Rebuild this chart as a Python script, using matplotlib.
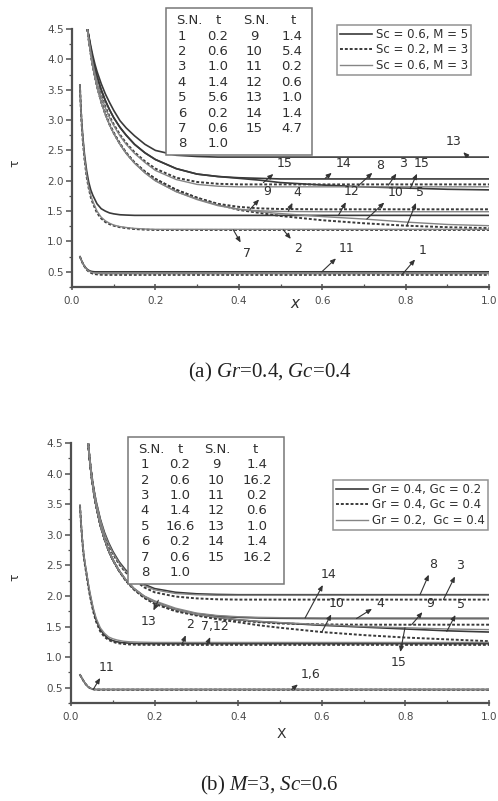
import matplotlib
matplotlib.use("Agg")
import matplotlib.pyplot as plt
from matplotlib.patches import Rectangle
from matplotlib.ticker import MultipleLocator, FormatStrFormatter

plt.rcParams['font.family'] = ['DejaVu Sans']
plt.rcParams['mathtext.fontset'] = 'custom'
plt.rcParams['mathtext.rm'] = 'Liberation Serif'
plt.rcParams['mathtext.it'] = 'Liberation Serif:italic'

# ---------------- panel (a) data ----------------
xa_main = [0.037, 0.04, 0.045, 0.05, 0.055, 0.06, 0.07, 0.08, 0.09, 0.1, 0.115, 0.13, 0.15,
           0.175, 0.2, 0.25, 0.3, 0.35, 0.4, 0.45, 0.5, 0.6, 0.7, 0.8, 0.9, 1.0]
a_y3 = [4.5, 4.36, 4.14, 3.95, 3.79, 3.65, 3.41, 3.22, 3.06, 2.93, 2.76, 2.62, 2.47,
        2.32, 2.2, 2.05, 1.98, 1.95, 1.94, 1.94, 1.94, 1.94, 1.94, 1.94, 1.94, 1.94]
a_y4 = [4.5, 4.33, 4.09, 3.88, 3.71, 3.56, 3.3, 3.1, 2.93, 2.79, 2.61, 2.46, 2.3,
        2.15, 2.03, 1.85, 1.72, 1.62, 1.57, 1.545, 1.535, 1.53, 1.53, 1.53, 1.53, 1.53]
a_y5 = [4.5, 4.33, 4.09, 3.88, 3.71, 3.56, 3.3, 3.1, 2.93, 2.79, 2.61, 2.46, 2.3,
        2.15, 2.03, 1.85, 1.72, 1.61, 1.52, 1.47, 1.42, 1.35, 1.3, 1.26, 1.235, 1.22]
a_y8 = [4.5, 4.35, 4.12, 3.93, 3.77, 3.63, 3.39, 3.2, 3.04, 2.91, 2.74, 2.6, 2.45,
        2.3, 2.17, 2.02, 1.94, 1.91, 1.9, 1.9, 1.9, 1.9, 1.9, 1.9, 1.9, 1.9]
a_y9 = [4.5, 4.32, 4.08, 3.87, 3.7, 3.55, 3.29, 3.09, 2.92, 2.78, 2.6, 2.45, 2.29,
        2.13, 2.0, 1.82, 1.69, 1.59, 1.53, 1.505, 1.495, 1.49, 1.49, 1.49, 1.49, 1.49]
a_y10 = [4.5, 4.32, 4.08, 3.87, 3.7, 3.55, 3.29, 3.09, 2.92, 2.78, 2.6, 2.45, 2.29,
         2.13, 2.0, 1.82, 1.7, 1.6, 1.53, 1.49, 1.46, 1.41, 1.37, 1.32, 1.28, 1.26]
a_y13 = [4.5, 4.4, 4.22, 4.06, 3.92, 3.8, 3.6, 3.43, 3.29, 3.16, 2.99, 2.87, 2.74,
         2.6, 2.5, 2.42, 2.4, 2.39, 2.39, 2.39, 2.39, 2.39, 2.39, 2.39, 2.39, 2.39]
a_y14 = [4.5, 4.38, 4.18, 4.0, 3.85, 3.72, 3.5, 3.32, 3.17, 3.04, 2.88, 2.75, 2.6,
         2.46, 2.35, 2.2, 2.11, 2.07, 2.05, 2.04, 2.03, 2.03, 2.03, 2.03, 2.03, 2.03]
a_y15 = [4.5, 4.38, 4.18, 4.0, 3.85, 3.72, 3.5, 3.32, 3.17, 3.04, 2.88, 2.75, 2.6,
         2.46, 2.35, 2.2, 2.11, 2.07, 2.04, 2.01, 1.97, 1.93, 1.9, 1.88, 1.86, 1.85]

xa_06 = [0.019, 0.021, 0.023, 0.026, 0.03, 0.035, 0.04, 0.045, 0.05, 0.06, 0.07, 0.08,
         0.09, 0.1, 0.115, 0.13, 0.15, 0.175, 0.2, 0.3, 0.5, 1.0]
a_y12 = [3.58, 3.25, 3.0, 2.72, 2.43, 2.17, 1.98, 1.85, 1.76, 1.62, 1.54, 1.5,
         1.47, 1.455, 1.44, 1.435, 1.43, 1.43, 1.43, 1.43, 1.43, 1.43]
a_y2 = [3.58, 3.22, 2.95, 2.65, 2.35, 2.07, 1.88, 1.73, 1.63, 1.47, 1.38, 1.32,
        1.285, 1.26, 1.235, 1.22, 1.205, 1.195, 1.19, 1.19, 1.19, 1.19]
a_y7 = [3.58, 3.23, 2.97, 2.68, 2.38, 2.1, 1.9, 1.76, 1.66, 1.5, 1.4, 1.34,
        1.3, 1.27, 1.245, 1.23, 1.215, 1.205, 1.2, 1.2, 1.2, 1.2]

xa_02 = [0.019, 0.022, 0.025, 0.028, 0.032, 0.036, 0.04, 0.045, 0.05, 0.055, 0.06,
         0.07, 0.08, 0.1, 0.2, 0.5, 1.0]
a_y11 = [0.75, 0.7, 0.655, 0.615, 0.575, 0.545, 0.525, 0.51, 0.503, 0.5, 0.5,
         0.5, 0.5, 0.5, 0.5, 0.5, 0.5]
a_y1 = [0.75, 0.7, 0.65, 0.61, 0.565, 0.53, 0.505, 0.485, 0.47, 0.462, 0.457,
        0.452, 0.45, 0.45, 0.45, 0.45, 0.45]
a_y6 = [0.75, 0.7, 0.652, 0.612, 0.57, 0.537, 0.515, 0.497, 0.485, 0.478, 0.474,
        0.471, 0.47, 0.47, 0.47, 0.47, 0.47]

a_sn_left = ["1", "2", "3", "4", "5", "6", "7", "8"]
a_t_left = ["0.2", "0.6", "1.0", "1.4", "5.6", "0.2", "0.6", "1.0"]
a_sn_right = ["9", "10", "11", "12", "13", "14", "15"]
a_t_right = ["1.4", "5.4", "0.2", "0.6", "1.0", "1.4", "4.7"]
a_legend = ["Sc = 0.6, M = 5", "Sc = 0.2, M = 3", "Sc = 0.6, M = 3"]

# ---------------- panel (b) data ----------------
xb_main = [0.041, 0.045, 0.05, 0.055, 0.06, 0.07, 0.08, 0.09, 0.1, 0.115, 0.13, 0.15,
           0.175, 0.2, 0.25, 0.3, 0.35, 0.4, 0.45, 0.5, 0.6, 0.7, 0.8, 0.9, 1.0]
b_y8 = [4.5, 4.23, 3.95, 3.73, 3.55, 3.26, 3.04, 2.87, 2.73, 2.56, 2.43, 2.3,
        2.19, 2.12, 2.06, 2.035, 2.025, 2.02, 2.02, 2.02, 2.02, 2.02, 2.02, 2.02, 2.02]
b_y3 = [4.5, 4.22, 3.94, 3.71, 3.52, 3.23, 3.0, 2.83, 2.69, 2.52, 2.39, 2.27,
        2.14, 2.06, 1.99, 1.96, 1.945, 1.94, 1.94, 1.94, 1.94, 1.94, 1.94, 1.94, 1.94]
b_y13 = [4.5, 4.23, 3.95, 3.72, 3.54, 3.25, 3.02, 2.85, 2.71, 2.54, 2.41, 2.29,
         2.17, 2.1, 2.04, 2.02, 2.01, 2.01, 2.01, 2.01, 2.01, 2.01, 2.01, 2.01, 2.01]
b_y9 = [4.5, 4.2, 3.9, 3.67, 3.47, 3.16, 2.93, 2.74, 2.59, 2.41, 2.27, 2.12,
        1.99, 1.9, 1.78, 1.71, 1.67, 1.65, 1.64, 1.635, 1.63, 1.63, 1.63, 1.63, 1.63]
b_y4 = [4.5, 4.2, 3.9, 3.67, 3.47, 3.16, 2.93, 2.74, 2.59, 2.41, 2.26, 2.11,
        1.97, 1.88, 1.76, 1.69, 1.64, 1.6, 1.57, 1.55, 1.535, 1.53, 1.53, 1.53, 1.53]
b_y14 = [4.5, 4.21, 3.91, 3.68, 3.48, 3.17, 2.94, 2.75, 2.6, 2.42, 2.28, 2.13,
         2.0, 1.92, 1.8, 1.72, 1.68, 1.66, 1.65, 1.645, 1.64, 1.64, 1.64, 1.64, 1.64]
b_y10 = [4.5, 4.2, 3.9, 3.67, 3.47, 3.16, 2.93, 2.74, 2.59, 2.41, 2.27, 2.12,
         1.99, 1.9, 1.78, 1.7, 1.65, 1.61, 1.58, 1.56, 1.52, 1.49, 1.46, 1.43, 1.41]
b_y5 = [4.5, 4.2, 3.9, 3.67, 3.47, 3.16, 2.93, 2.74, 2.59, 2.41, 2.26, 2.11,
        1.97, 1.87, 1.75, 1.68, 1.62, 1.57, 1.52, 1.48, 1.41, 1.36, 1.32, 1.29, 1.26]
b_y15 = [4.5, 4.2, 3.9, 3.67, 3.47, 3.16, 2.93, 2.74, 2.59, 2.41, 2.27, 2.12,
         1.99, 1.9, 1.78, 1.7, 1.65, 1.61, 1.585, 1.565, 1.53, 1.5, 1.48, 1.46, 1.45]

xb_06 = [0.0215, 0.024, 0.027, 0.03, 0.033, 0.037, 0.041, 0.045, 0.049, 0.053, 0.06,
         0.07, 0.08, 0.09, 0.1, 0.11, 0.125, 0.14, 0.16, 0.2, 0.3, 0.5, 1.0]
b_y12 = [3.48, 3.2, 2.93, 2.72, 2.56, 2.4, 2.22, 2.07, 1.94, 1.81, 1.64, 1.48, 1.39,
         1.33, 1.3, 1.28, 1.26, 1.25, 1.245, 1.24, 1.24, 1.24, 1.24]
b_y7 = [3.48, 3.19, 2.92, 2.7, 2.54, 2.38, 2.2, 2.04, 1.91, 1.78, 1.61, 1.45, 1.36,
        1.3, 1.27, 1.25, 1.235, 1.228, 1.222, 1.22, 1.22, 1.22, 1.22]
b_y2 = [3.48, 3.18, 2.9, 2.68, 2.52, 2.35, 2.17, 2.01, 1.88, 1.75, 1.58, 1.42, 1.33,
        1.28, 1.25, 1.23, 1.215, 1.207, 1.202, 1.2, 1.2, 1.2, 1.2]

xb_02 = [0.0215, 0.025, 0.03, 0.035, 0.04, 0.045, 0.05, 0.055, 0.06, 0.08, 0.2, 0.5, 1.0]
b_y1 = [0.71, 0.67, 0.61, 0.56, 0.52, 0.495, 0.48, 0.472, 0.468, 0.468, 0.468, 0.468, 0.468]
b_y6 = [0.71, 0.67, 0.61, 0.56, 0.52, 0.496, 0.481, 0.473, 0.47, 0.47, 0.47, 0.47, 0.47]
b_y11 = [0.71, 0.67, 0.612, 0.562, 0.522, 0.497, 0.482, 0.475, 0.472, 0.472, 0.472, 0.472, 0.472]

b_sn_left = ["1", "2", "3", "4", "5", "6", "7", "8"]
b_t_left = ["0.2", "0.6", "1.0", "1.4", "16.6", "0.2", "0.6", "1.0"]
b_sn_right = ["9", "10", "11", "12", "13", "14", "15"]
b_t_right = ["1.4", "16.2", "0.2", "0.6", "1.0", "1.4", "16.2"]
b_legend = ["Gr = 0.4, Gc = 0.2", "Gr = 0.4, Gc = 0.4", "Gr = 0.2,  Gc = 0.4"]

# ---------------- styles ----------------
W, H = 498, 801
DARK = '#3a3a3a'
GREY = '#858585'
TXT = '#303030'
sty_solid = dict(color=DARK, lw=1.2, ls='-')
sty_dash = dict(color=DARK, lw=1.4, ls=(0, (1.5, 1.0)))
sty_grey = dict(color=GREY, lw=1.0, ls='-')

fig = plt.figure(figsize=(W / 100, H / 100), dpi=100)


def fx(px):
    return px / W


def fy(py):
    return 1 - py / H


def style_axes(ax):
    ax.set_xlim(0, 1.0)
    ax.set_ylim(0.25, 4.5)
    for s in ['top', 'right']:
        ax.spines[s].set_visible(False)
    for s in ['left', 'bottom']:
        ax.spines[s].set_color('#505050')
        ax.spines[s].set_linewidth(1.6)
    ax.xaxis.set_major_locator(MultipleLocator(0.2))
    ax.xaxis.set_minor_locator(MultipleLocator(0.1))
    ax.set_yticks([0.5, 1.0, 1.5, 2.0, 2.5, 3.0, 3.5, 4.0, 4.5])
    ax.yaxis.set_minor_locator(MultipleLocator(0.25))
    ax.xaxis.set_major_formatter(FormatStrFormatter('%.1f'))
    ax.yaxis.set_major_formatter(FormatStrFormatter('%.1f'))
    ax.tick_params(axis='y', which='major', direction='out', length=4, width=1.1, color='#505050',
                   labelsize=7.5, labelcolor='#4a4a4a', pad=2)
    ax.tick_params(axis='y', which='minor', direction='out', length=2, width=0.9, color='#505050')
    ax.tick_params(axis='x', which='major', direction='inout', length=5, width=1.1, color='#505050',
                   labelsize=7.5, labelcolor='#4a4a4a', pad=4)
    ax.tick_params(axis='x', which='minor', direction='in', length=2.5, width=0.9, color='#505050')


def draw_table(sn_l, t_l, sn_r, t_r, box, hdr_x, col_x, row_y0, row_dy):
    x0, y0, x1, y1 = box
    fig.patches.append(Rectangle((fx(x0), fy(y1)), fx(x1) - fx(x0), fy(y0) - fy(y1),
                                 transform=fig.transFigure, fill=True, facecolor='white',
                                 edgecolor='#777777', lw=1.1, zorder=5))
    hdr = ["S.N.", "t", "S.N.", "t"]
    kw = dict(ha='center', va='center', fontsize=9.5, color=TXT, zorder=6)
    for h, xx in zip(hdr, hdr_x):
        fig.text(fx(xx), fy(row_y0), h, **kw)
    for i, (s, t) in enumerate(zip(sn_l, t_l)):
        yy = fy(row_y0 + (i + 1) * row_dy)
        fig.text(fx(col_x[0]), yy, s, **kw)
        fig.text(fx(col_x[1]), yy, t, **kw)
    for i, (s, t) in enumerate(zip(sn_r, t_r)):
        yy = fy(row_y0 + (i + 1) * row_dy)
        fig.text(fx(col_x[2]), yy, s, **kw)
        fig.text(fx(col_x[3]), yy, t, **kw)


def label(ax, txt, curve_pt, text_pt):
    ax.annotate(txt, xy=curve_pt, xytext=text_pt, ha='center', va='center', fontsize=9,
                color=TXT,
                arrowprops=dict(arrowstyle='<|-,head_length=0.35,head_width=0.15', color='#333333',
                                lw=0.8, shrinkA=1, shrinkB=0))


def make_legend(ax, handles, labels, anchor):
    lg = ax.legend(handles, labels, loc='upper right', bbox_to_anchor=anchor,
                   bbox_transform=fig.transFigure, fontsize=8.5, frameon=True, fancybox=False,
                   handlelength=2.7, handletextpad=0.4, labelspacing=0.2, borderpad=0.25,
                   borderaxespad=0, alignment='right')
    lg.get_frame().set_edgecolor('#777777')
    lg.get_frame().set_linewidth(1.1)
    for t in lg.get_texts():
        t.set_color(TXT)
    return lg


# ================= panel (a) =================
axa = fig.add_axes([fx(72), fy(287), fx(489) - fx(72), fy(29) - fy(287)])
style_axes(axa)
# solid group (11-15)
axa.plot(xa_02, a_y11, **sty_solid)
axa.plot(xa_06, a_y12, **sty_solid)
la1, = axa.plot(xa_main, a_y13, **sty_solid)
axa.plot(xa_main, a_y14, **sty_solid)
axa.plot(xa_main, a_y15, **sty_solid)
# dashed group (1-5)
axa.plot(xa_02, a_y1, **sty_dash)
axa.plot(xa_06, a_y2, **sty_dash)
la2, = axa.plot(xa_main, a_y3, **sty_dash)
axa.plot(xa_main, a_y4, **sty_dash)
axa.plot(xa_main, a_y5, **sty_dash)
# grey group (6-10)
axa.plot(xa_02, a_y6, **sty_grey)
axa.plot(xa_06, a_y7, **sty_grey)
la3, = axa.plot(xa_main, a_y8, **sty_grey)
axa.plot(xa_main, a_y9, **sty_grey)
axa.plot(xa_main, a_y10, **sty_grey)

make_legend(axa, [la1, la2, la3], a_legend, (fx(471.3), fy(25)))

label(axa, "15", (0.459, 1.97), (0.511, 2.28))
label(axa, "14", (0.607, 2.04), (0.651, 2.29))
label(axa, "8", (0.687, 1.92), (0.739, 2.25))
label(axa, "3", (0.759, 1.93), (0.795, 2.29))
label(axa, "15", (0.811, 1.87), (0.839, 2.29))
label(axa, "13", (0.95, 2.39), (0.914, 2.64))
label(axa, "9", (0.427, 1.53), (0.467, 1.83))
label(axa, "4", (0.519, 1.5), (0.541, 1.81))
label(axa, "12", (0.639, 1.43), (0.671, 1.82))
label(axa, "10", (0.707, 1.37), (0.775, 1.81))
label(axa, "5", (0.803, 1.26), (0.835, 1.81))
label(axa, "7", (0.387, 1.19), (0.419, 0.81))
label(axa, "2", (0.507, 1.19), (0.543, 0.89))
label(axa, "11", (0.599, 0.5), (0.659, 0.89))
label(axa, "1", (0.791, 0.45), (0.841, 0.85))

fig.text(fx(295), fy(303), "x", ha='center', va='center', fontsize=11, style='italic', color=TXT)
fig.text(fx(15), fy(163), "τ", ha='center', va='center', fontsize=9, rotation=90, color=TXT)

draw_table(a_sn_left, a_t_left, a_sn_right, a_t_right, (166, 8.3, 312.3, 155),
           [189, 218, 256, 293], [182, 218, 254, 292], 20.7, 15.4)

fig.text(fx(270), fy(372), r'(a) $\mathit{Gr}$=0.4, $\mathit{Gc}$=0.4', ha='center', va='center',
         fontsize=15, color='#222222', family='Liberation Serif')

# ================= panel (b) =================
axb = fig.add_axes([fx(71), fy(703), fx(489) - fx(71), fy(443) - fy(703)])
style_axes(axb)
# solid group (6-10)
axb.plot(xb_02, b_y6, **sty_solid)
axb.plot(xb_06, b_y7, **sty_solid)
lb1, = axb.plot(xb_main, b_y8, **sty_solid)
axb.plot(xb_main, b_y9, **sty_solid)
axb.plot(xb_main, b_y10, **sty_solid)
# dashed group (1-5)
axb.plot(xb_02, b_y1, **sty_dash)
axb.plot(xb_06, b_y2, **sty_dash)
lb2, = axb.plot(xb_main, b_y3, **sty_dash)
axb.plot(xb_main, b_y4, **sty_dash)
axb.plot(xb_main, b_y5, **sty_dash)
# grey group (11-15)
axb.plot(xb_02, b_y11, **sty_grey)
axb.plot(xb_06, b_y12, **sty_grey)
lb3, = axb.plot(xb_main, b_y13, **sty_grey)
axb.plot(xb_main, b_y14, **sty_grey)
axb.plot(xb_main, b_y15, **sty_grey)

make_legend(axb, [lb1, lb2, lb3], b_legend, (fx(488.3), fy(480)))

label(axb, "14", (0.56, 1.64), (0.616, 2.35))
label(axb, "8", (0.835, 2.02), (0.867, 2.52))
label(axb, "3", (0.891, 1.94), (0.931, 2.49))
label(axb, "10", (0.6, 1.41), (0.636, 1.87))
label(axb, "4", (0.683, 1.63), (0.739, 1.87))
label(axb, "9", (0.815, 1.53), (0.859, 1.88))
label(axb, "5", (0.899, 1.42), (0.933, 1.86))
label(axb, "15", (0.799, 1.48), (0.783, 0.91))
label(axb, "13", (0.209, 1.93), (0.185, 1.59))
label(axb, "2", (0.265, 1.2), (0.285, 1.53))
label(axb, "7,12", (0.325, 1.2), (0.344, 1.5))
label(axb, "11", (0.053, 0.47), (0.085, 0.83))
label(axb, "1,6", (0.528, 0.47), (0.572, 0.72))

fig.text(fx(281), fy(734), "X", ha='center', va='center', fontsize=10, color=TXT)
fig.text(fx(15), fy(577), "τ", ha='center', va='center', fontsize=9, rotation=90, color=TXT)

draw_table(b_sn_left, b_t_left, b_sn_right, b_t_right, (127.7, 437.3, 284, 584.3),
           [151, 180, 217.5, 255], [145, 180, 216, 257], 449.3, 15.4)

fig.text(fx(269), fy(785), r'(b) $\mathit{M}$=3, $\mathit{Sc}$=0.6', ha='center', va='center',
         fontsize=15, color='#222222', family='Liberation Serif')

fig.savefig('out.png', dpi=100)
